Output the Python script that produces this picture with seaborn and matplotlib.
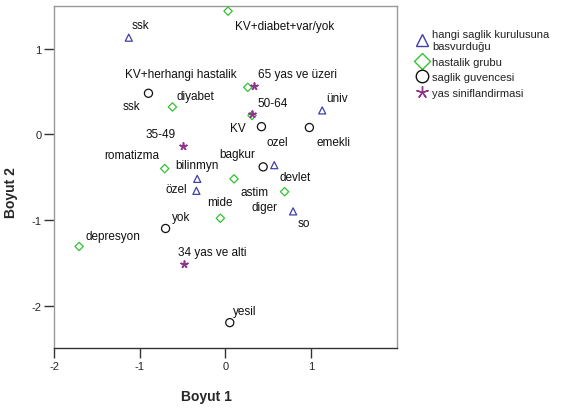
import pandas as pd
import seaborn as sns
import matplotlib.pyplot as plt
from matplotlib.lines import Line2D

# Category points (Boyut 1, Boyut 2)
kurulus_names = ['ssk', 'üniv', 'devlet', 'bilinmyn', 'özel', 'so']
kurulus_x = [-1.13, 1.13, 0.57, -0.33, -0.34, 0.79]
kurulus_y = [1.13, 0.28, -0.36, -0.52, -0.66, -0.90]

hastalik_names = ['KV+diabet+var/yok', 'KV+herhangi hastalik', 'diyabet', 'KV', 'romatizma',
                  'astim', 'diger', 'mide', 'depresyon']
hastalik_x = [0.03, 0.26, -0.62, 0.31, -0.71, 0.10, 0.69, -0.06, -1.71]
hastalik_y = [1.44, 0.55, 0.32, 0.22, -0.40, -0.52, -0.67, -0.98, -1.31]

guvence_names = ['ssk', 'ozel', 'emekli', 'bagkur', 'yok', 'yesil']
guvence_x = [-0.90, 0.42, 0.98, 0.44, -0.70, 0.05]
guvence_y = [0.48, 0.09, 0.08, -0.38, -1.10, -2.20]

yas_names = ['65 yas ve üzeri', '50-64', '35-49', '34 yas ve alti']
yas_x = [0.33, 0.31, -0.50, -0.49]
yas_y = [0.57, 0.24, -0.14, -1.51]

# where each label sits (same order as the names)
kurulus_lab = [(-0.99, 1.28), (1.30, 0.42), (0.81, -0.50), (-0.33, -0.36), (-0.58, -0.64), (0.92, -1.04)]
hastalik_lab = [(0.69, 1.27), (-0.52, 0.71), (-0.35, 0.45), (0.14, 0.07), (-1.10, -0.24),
                (0.34, -0.67), (0.45, -0.85), (-0.06, -0.79), (-1.31, -1.19)]
guvence_lab = [(-1.10, 0.33), (0.60, -0.09), (1.26, -0.09), (0.14, -0.23), (-0.52, -0.97), (0.23, -2.07)]
yas_lab = [(0.84, 0.71), (0.55, 0.37), (-0.76, 0.01), (-0.15, -1.38)]

groups = ['hangi saglik kurulusuna\nbasvurduğu', 'hastalik grubu', 'saglik guvencesi', 'yas siniflandirmasi']

df = pd.concat([
    pd.DataFrame({'label': kurulus_names, 'dim1': kurulus_x, 'dim2': kurulus_y, 'group': groups[0]}),
    pd.DataFrame({'label': hastalik_names, 'dim1': hastalik_x, 'dim2': hastalik_y, 'group': groups[1]}),
    pd.DataFrame({'label': guvence_names, 'dim1': guvence_x, 'dim2': guvence_y, 'group': groups[2]}),
    pd.DataFrame({'label': yas_names, 'dim1': yas_x, 'dim2': yas_y, 'group': groups[3]}),
], ignore_index=True)
label_pos = kurulus_lab + hastalik_lab + guvence_lab + yas_lab

colors = {groups[0]: '#3f3fa8', groups[1]: '#33c233', groups[2]: '#111111', groups[3]: '#8e358e'}
markers = {groups[0]: '^', groups[1]: 'D', groups[2]: 'o', groups[3]: (5, 2, 0)}
sizes = {groups[0]: 26, groups[1]: 18, groups[2]: 34, groups[3]: 24}

sns.set_style('white')
plt.rcParams['font.family'] = ['Liberation Sans', 'DejaVu Sans']
plt.rcParams['axes.unicode_minus'] = False

fig = plt.figure(figsize=(5.61, 4.14), dpi=100)
ax = fig.add_axes([0.0968, 0.1563, 0.6103, 0.8268])

for g in groups:
    sub = df[df['group'] == g]
    # the asterisk marker is unfilled, so it takes its colour from the face
    face = colors[g] if g == groups[3] else 'none'
    sns.scatterplot(data=sub, x='dim1', y='dim2', ax=ax, marker=markers[g], s=sizes[g],
                    color=colors[g], facecolor=face, edgecolor=colors[g],
                    linewidth=1.2 if g == groups[3] else 0.9, legend=False, zorder=3)

for txt, (lx, ly) in zip(df['label'], label_pos):
    ax.text(lx, ly, txt, fontsize=8.5, ha='center', va='center', color='#111111')

ax.set_xlim(-2, 2)
ax.set_ylim(-2.5, 1.5)
ax.set_xticks([-2, -1, 0, 1])
ax.set_yticks([-2, -1, 0, 1])
ax.tick_params(axis='both', direction='out', length=7, width=1, color='#333333',
               labelsize=8, pad=2, left=True, bottom=True)
for s in ax.spines.values():
    s.set_color('#999999')
    s.set_linewidth(1)
ax.spines['bottom'].set_color('#333333')

ax.set_xlabel('Boyut 1', fontsize=10, fontweight='bold')
ax.set_ylabel('Boyut 2', fontsize=10, fontweight='bold')
ax.xaxis.set_label_coords(0.443, -0.118)
ax.yaxis.set_label_coords(-0.105, 0.457)

handles = [Line2D([], [], linestyle='none', marker=markers[g], markersize=9 if g != groups[1] else 8,
                  markerfacecolor='none', markeredgecolor=colors[g], markeredgewidth=1)
           for g in groups]
fig.legend(handles, groups, loc='upper left', bbox_to_anchor=(0.733, 0.94), frameon=False,
           fontsize=8, handlelength=1.0, handletextpad=0.4, labelspacing=0.5, borderpad=0,
           labelcolor='#222222')

fig.savefig('out.png', dpi=100)
